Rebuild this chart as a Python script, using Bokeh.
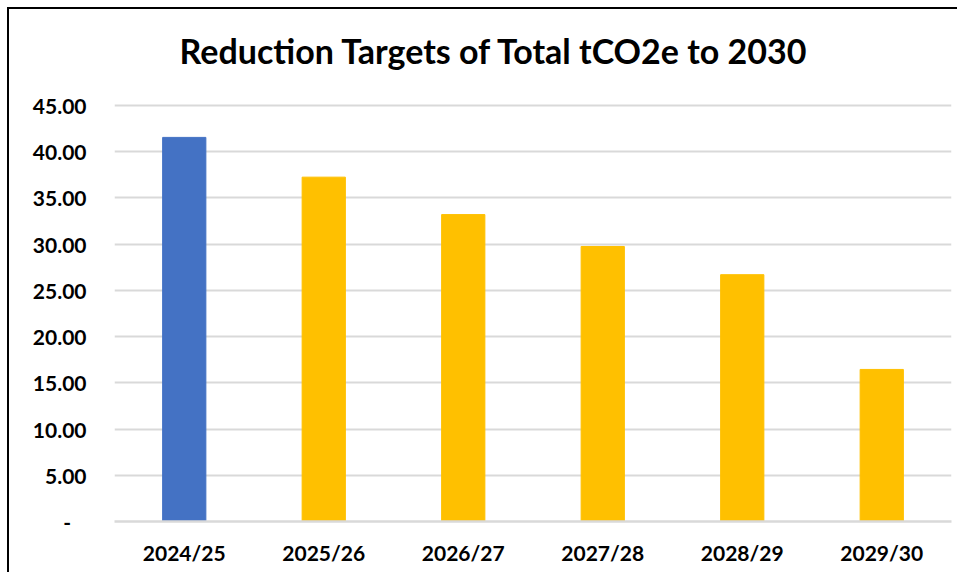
from bokeh.plotting import figure
from bokeh.models import Range1d, FixedTicker, NumeralTickFormatter, ColumnDataSource, Label
from bokeh.embed import file_html
from bokeh.resources import INLINE

years = ["2024/25", "2025/26", "2026/27", "2027/28", "2028/29", "2029/30"]
values = [41.55, 37.25, 33.2, 29.75, 26.7, 16.45]
colors = ["#4472C4", "#FFC000", "#FFC000", "#FFC000", "#FFC000", "#FFC000"]
y_ticks = [0, 5, 10, 15, 20, 25, 30, 35, 40, 45]
title_text = "Reduction Targets of Total tCO2e to 2030"

# frame spans the whole height above the x axis; the value axis ends at 45
FRAME_H = 512          # pixels from top of figure to the zero line
AXIS_TOP_PX = 96       # pixels from top of figure to the 45 line
y_max = 45 * FRAME_H / (FRAME_H - AXIS_TOP_PX)
px_per_unit = (FRAME_H - AXIS_TOP_PX) / 45

src = ColumnDataSource(dict(x=years, top=values, color=colors))

p = figure(x_range=years, y_range=Range1d(0, y_max), width=950, height=565,
           output_backend="svg", toolbar_location=None,
           min_border_left=105, min_border_right=8, min_border_top=0, min_border_bottom=53)
p.styles = {"border-left": "2px solid black", "border-top": "2px solid black",
            "margin-left": "7px", "margin-top": "7px"}
p.outline_line_color = None

p.vbar(x="x", top="top", width=0.31, color="color", source=src)

title = Label(x=2.723, y=45 + 55 / px_per_unit, text=title_text, text_align="center",
              text_baseline="alphabetic", text_font="Lato", text_font_size="34px",
              text_font_style="bold", text_color="black")
p.add_layout(title)

p.xgrid.grid_line_color = None
p.ygrid.grid_line_color = "#D9D9D9"
p.ygrid.grid_line_width = 2
p.ygrid.ticker = FixedTicker(ticks=y_ticks)

p.yaxis.ticker = FixedTicker(ticks=y_ticks)
p.yaxis.formatter = NumeralTickFormatter(format="0.00")
p.yaxis.major_label_overrides = {0: "-\u00a0\u00a0\u00a0"}
p.yaxis.axis_line_color = None
p.yaxis.major_tick_line_color = None
p.yaxis.minor_tick_line_color = None
p.yaxis.major_label_standoff = 22

p.xaxis.axis_line_color = "#D9D9D9"
p.xaxis.axis_line_width = 2.5
p.xaxis.major_tick_line_color = None
p.xaxis.minor_tick_line_color = None
p.xaxis.major_label_standoff = 12

for ax in (p.xaxis[0], p.yaxis[0]):
    ax.major_label_text_font = "Lato"
    ax.major_label_text_font_size = "21px"
    ax.major_label_text_font_style = "bold"
    ax.major_label_text_color = "black"

open("out.html", "w").write(file_html(p, INLINE))
